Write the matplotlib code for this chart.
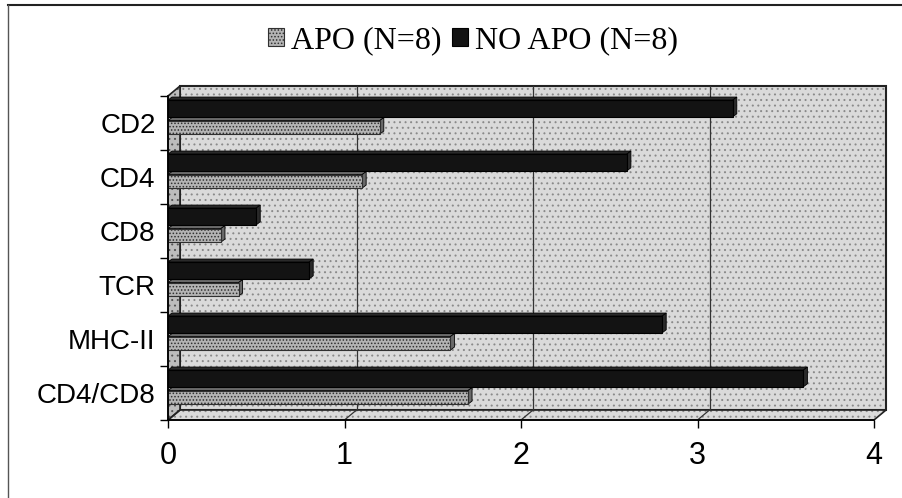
import numpy as np
import matplotlib.pyplot as plt
from matplotlib.patches import Polygon, Rectangle, Patch
from matplotlib.lines import Line2D

categories = ['CD2', 'CD4', 'CD8', 'TCR', 'MHC-II', 'CD4/CD8']
apo = [1.2, 1.1, 0.3, 0.4, 1.6, 1.7]
no_apo = [3.2, 2.6, 0.5, 0.8, 2.8, 3.6]
x_ticks = [0, 1, 2, 3, 4]
legend_labels = ['APO (N=8)', 'NO APO (N=8)']

W, H = 902, 498
plt.rcParams['font.family'] = 'Liberation Sans'
plt.rcParams['hatch.linewidth'] = 0.7

fig = plt.figure(figsize=(W / 100, H / 100), dpi=100)
ax = fig.add_axes([168 / W, 1 - 420 / H, 706 / W, 324 / H])
ax.set_xlim(0, 4)
ax.set_ylim(-0.5, 5.5)

# 3d depth offset of the back wall, in data units
dxd = 12 / 176.5
dyd = 10 / 54
# small depth for the bars themselves
bdx = 4 / 176.5
bdy = 3 / 54

wall_col = '#dadada'
dot_col = '#8a8a8a'

# back wall
ax.add_patch(Rectangle((dxd, -0.5 + dyd), 4, 6, facecolor=wall_col, edgecolor=dot_col,
                       hatch='...', lw=0, zorder=0, clip_on=False))
ax.add_patch(Rectangle((dxd, -0.5 + dyd), 4, 6, facecolor='none', edgecolor='#222222',
                       lw=1.5, zorder=0.5, clip_on=False))
# left side wall
left_wall = [(0, -0.5), (0, 5.5), (dxd, 5.5 + dyd), (dxd, -0.5 + dyd)]
ax.add_patch(Polygon(left_wall, facecolor='#bdbdbd', edgecolor='#555555', hatch='...',
                     lw=0, zorder=0.6, clip_on=False))
ax.add_patch(Polygon(left_wall, facecolor='none', edgecolor='#222222', lw=1.2, zorder=0.65, clip_on=False))
# floor
floor = [(0, -0.5), (4, -0.5), (4 + dxd, -0.5 + dyd), (dxd, -0.5 + dyd)]
ax.add_patch(Polygon(floor, facecolor=wall_col, edgecolor=dot_col, hatch='...', lw=0, zorder=0.6, clip_on=False))
ax.add_patch(Polygon(floor, facecolor='none', edgecolor='#222222', lw=1.2, zorder=0.7, clip_on=False))

# gridlines on back wall and floor
for k in x_ticks[1:-1]:
    ax.plot([k + dxd, k + dxd], [-0.5 + dyd, 5.5 + dyd], color='#333333', lw=0.9, zorder=0.8, clip_on=False)
    ax.plot([k, k + dxd], [-0.5, -0.5 + dyd], color='#333333', lw=0.9, zorder=0.8, clip_on=False)


def draw_bar(yc, h, v, face, side, hatch=None, hcol='k'):
    y0, y1 = yc - h / 2, yc + h / 2
    ax.add_patch(Rectangle((0, y0), v, h, facecolor=face, edgecolor=hcol, hatch=hatch,
                           lw=0.8, zorder=2, clip_on=False))
    ax.add_patch(Polygon([(0, y1), (v, y1), (v + bdx, y1 + bdy), (bdx, y1 + bdy)],
                         facecolor=side, edgecolor='k', lw=0.6, zorder=1.9, clip_on=False))
    ax.add_patch(Polygon([(v, y0), (v, y1), (v + bdx, y1 + bdy), (v + bdx, y0 + bdy)],
                         facecolor=side, edgecolor='k', lw=0.6, zorder=1.9, clip_on=False))


y_pos = np.arange(len(categories))[::-1]
for y, a, n in zip(y_pos, apo, no_apo):
    draw_bar(y + 0.27, 0.31, n, '#131313', '#2a2a2a')
    draw_bar(y - 0.08, 0.25, a, '#b4b4b4', '#6a6a6a', hatch='.....', hcol='#303030')

for s in ['top', 'right']:
    ax.spines[s].set_visible(False)
ax.spines['left'].set_linewidth(1.2)
ax.spines['bottom'].set_linewidth(1.2)
ax.set_facecolor('none')

ax.set_xticks(x_ticks)
ax.set_xticklabels([str(t) for t in x_ticks], fontsize=22)
ax.tick_params(axis='x', length=6, width=1, pad=9)
ax.set_yticks(y_pos)
ax.set_yticklabels(categories, fontsize=20)
ax.set_yticks(np.arange(-0.5, 6, 1), minor=True)
ax.tick_params(axis='y', which='major', length=0, pad=9)
ax.tick_params(axis='y', which='minor', length=6, width=1)

handles = [Patch(facecolor='#b4b4b4', edgecolor='#303030', hatch='.....', lw=0.8),
           Patch(facecolor='#131313', edgecolor='k', lw=0.8)]
fig.legend(handles=handles, labels=legend_labels, loc='center', bbox_to_anchor=(473 / W, 1 - 41 / H),
           ncol=2, frameon=False, prop={'family': 'Liberation Serif', 'size': 23},
           handlelength=0.5, handleheight=0.5, handletextpad=0.2, columnspacing=0.35,
           borderpad=0, borderaxespad=0)

# outer chart border
fig.add_artist(Line2D([8 / W, 1], [1 - 5 / H, 1 - 5 / H], color='#222222', lw=1.5))
fig.add_artist(Line2D([8 / W, 8 / W], [1 - 5 / H, 0], color='#555555', lw=1))

fig.savefig('out.png', dpi=100)
